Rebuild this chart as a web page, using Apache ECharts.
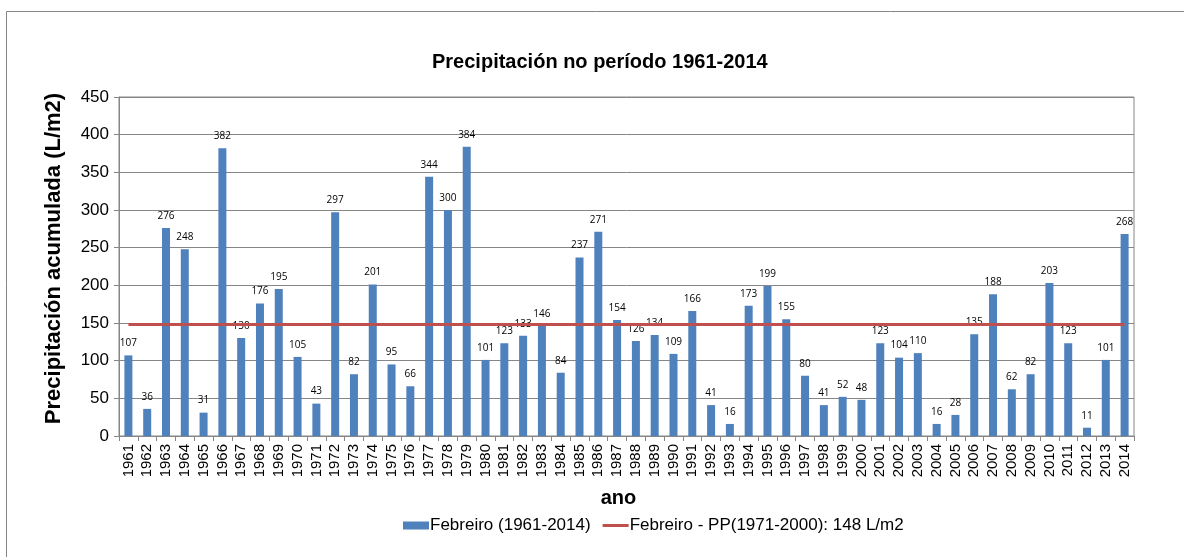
<!DOCTYPE html>
<html>
<head>
<meta charset="utf-8">
<script src="https://cdn.jsdelivr.net/npm/echarts@6/dist/echarts.min.js"></script>
<style>
  html, body { margin: 0; padding: 0; background: #fff; }
  #chart { width: 1184px; height: 557px; }
</style>
</head>
<body>
<div id="chart"></div>
<script>
// anos 1961-2014
var years = ['1961','1962','1963','1964','1965','1966','1967','1968','1969','1970',
  '1971','1972','1973','1974','1975','1976','1977','1978','1979','1980',
  '1981','1982','1983','1984','1985','1986','1987','1988','1989','1990',
  '1991','1992','1993','1994','1995','1996','1997','1998','1999','2000',
  '2001','2002','2003','2004','2005','2006','2007','2008','2009','2010',
  '2011','2012','2013','2014']
// precipitación febreiro (L/m2)
var febreiro = [107, 36, 276, 248, 31, 382, 130, 176, 195, 105,
  43, 297, 82, 201, 95, 66, 344, 300, 384, 101,
  123, 133, 146, 84, 237, 271, 154, 126, 134, 109,
  166, 41, 16, 173, 199, 155, 80, 41, 52, 48,
  123, 104, 110, 16, 28, 135, 188, 62, 82, 203,
  123, 11, 101, 268]
var media = 148 // PP(1971-2000)
var mediaLine = years.map(function () { return media })
var yTicks = [0, 450, 50] // min, max, intervalo

var gray = '#868686'
var font = 'Liberation Sans, Arial, sans-serif'

var myChart = echarts.init(document.getElementById('chart'))
myChart.setOption({
  animation: false,
  title: {
    text: 'Precipitación no período 1961-2014',
    left: 427,
    top: 47,
    textStyle: { fontFamily: font, fontSize: 20, fontWeight: 'bold', color: '#000' }
  },
  graphic: [{
    type: 'rect',
    shape: { x: 6.5, y: 11.5, width: 1300, height: 700 },
    style: { fill: 'none', stroke: gray, lineWidth: 1 },
    silent: true
  }],
  legend: {
    top: 512,
    left: 398,
    itemGap: 12,
    itemWidth: 26,
    itemHeight: 8,
    textStyle: { fontFamily: font, fontSize: 17, color: '#000', padding: [0, 0, 0, -4] },
    data: [
      { name: 'Febreiro (1961-2014)', icon: 'rect' },
      {
        name: 'Febreiro - PP(1971-2000): 148 L/m2',
        // só a liña, sen punto
        icon: 'path://M0,0 L0.01,0 Z M0,2.5 L26,2.5 L26,5.5 L0,5.5 Z M26,8 L25.99,8 Z'
      }
    ]
  },
  grid: {
    left: 119,
    right: 50,
    top: 97,
    bottom: 121,
    show: true,
    borderColor: gray,
    borderWidth: 1
  },
  xAxis: {
    type: 'category',
    data: years,
    name: 'ano',
    nameLocation: 'middle',
    nameGap: 52,
    nameTextStyle: { fontFamily: font, fontSize: 20, fontWeight: 'bold', color: '#000', padding: [0, 16, 0, 0] },
    axisLine: { lineStyle: { color: gray } },
    axisTick: { show: true, length: 5, lineStyle: { color: gray } },
    axisLabel: { rotate: 90, interval: 0, fontFamily: font, fontSize: 15, color: '#000', margin: 8 }
  },
  yAxis: {
    type: 'value',
    min: yTicks[0],
    max: yTicks[1],
    interval: yTicks[2],
    name: 'Precipitación acumulada (L/m2)',
    nameLocation: 'middle',
    nameGap: 54,
    nameTextStyle: { fontFamily: font, fontSize: 22, fontWeight: 'bold', color: '#000', padding: [0, 0, 0, 16] },
    axisLine: { show: true, lineStyle: { color: gray } },
    axisTick: { show: true, length: 5, lineStyle: { color: gray } },
    splitLine: { lineStyle: { color: gray, width: 1 } },
    axisLabel: { fontFamily: font, fontSize: 17, color: '#000', margin: 10 }
  },
  series: [
    {
      name: 'Febreiro (1961-2014)',
      type: 'bar',
      barWidth: 8,
      itemStyle: { color: '#4F81BD' },
      label: {
        show: true,
        position: 'top',
        distance: 7,
        fontFamily: 'Open Sans, sans-serif',
        fontSize: 10,
        color: '#000'
      },
      data: febreiro
    },
    {
      name: 'Febreiro - PP(1971-2000): 148 L/m2',
      type: 'line',
      symbol: 'none',
      z: 3,
      lineStyle: { color: '#C0504D', width: 3 },
      itemStyle: { color: '#C0504D' },
      data: mediaLine
    }
  ]
})
</script>
</body>
</html>
